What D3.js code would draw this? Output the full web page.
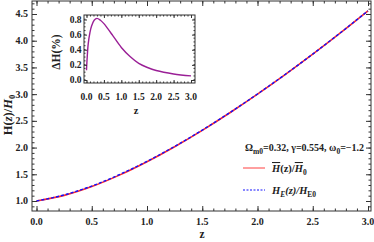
<!DOCTYPE html>
<html>
<head>
<meta charset="utf-8">
<script src="https://cdn.jsdelivr.net/npm/d3@7"></script>
<style>
  body { margin: 0; background: #fff; }
  svg text { font-family: "Liberation Serif", "Times New Roman", serif; font-weight: bold; fill: #222; }
</style>
</head>
<body>
<svg id="chart" width="374" height="242"></svg>
<script>
// main curves, H(z)/H0
var zMain = [0, 0.25, 0.5, 0.75, 1.0, 1.25, 1.5, 1.75, 2.0, 2.25, 2.5, 2.75, 3.0];
var hBar  = [1.000, 1.105, 1.270, 1.484, 1.735, 2.016, 2.322, 2.651, 2.999, 3.365, 3.747, 4.145, 4.558];
var hE    = [1.000, 1.113, 1.280, 1.494, 1.742, 2.022, 2.327, 2.655, 3.003, 3.368, 3.750, 4.148, 4.560];

// inset, relative difference in percent
var zInset = [0, 0.02, 0.05, 0.1, 0.15, 0.22, 0.3, 0.4, 0.5, 0.6, 0.75, 1.0, 1.25, 1.5, 1.75, 2.0, 2.5, 3.0];
var dH     = [0.13, 0.3, 0.48, 0.63, 0.72, 0.79, 0.815, 0.79, 0.745, 0.685, 0.59, 0.43, 0.31, 0.22, 0.165, 0.125, 0.08, 0.055];

var xTicks = [0, 0.5, 1, 1.5, 2, 2.5, 3];
var yTicks = [1, 1.5, 2, 2.5, 3, 3.5, 4, 4.5];
var yInsetTicks = [0, 0.2, 0.4, 0.6, 0.8];

var svg = d3.select("#chart");

// draws a framed box with inward ticks on all four sides
function frame(g, x, y, box, major, minor, xMajor, xMinor, yMajor, yMinor) {
    g.append("rect")
        .attr("x", box.l).attr("y", box.t)
        .attr("width", box.r - box.l).attr("height", box.b - box.t)
        .attr("fill", "none").attr("stroke", "#333").attr("stroke-width", 1);

    var sides = [
        [d3.axisBottom, x, box.b, "x"],
        [d3.axisTop, x, box.t, "x"],
        [d3.axisLeft, y, box.l, "y"],
        [d3.axisRight, y, box.r, "y"]
    ];
    sides.forEach(function(s) {
        [[s[3] == "x" ? xMajor : yMajor, major], [s[3] == "x" ? xMinor : yMinor, minor]].forEach(function(t) {
            var ax = s[0](s[1]).tickValues(t[0]).tickSize(-t[1]).tickFormat("");
            var a = g.append("g")
                .attr("transform", s[3] == "x" ? "translate(0," + s[2] + ")" : "translate(" + s[2] + ",0)")
                .call(ax);
            a.select(".domain").remove();
            a.selectAll("line").attr("stroke", "#333");
        });
    });
}

// ---- main plot
var x = d3.scaleLinear().domain([0, 3]).range([36.5, 368]);
var y = d3.scaleLinear().domain([1, 4.5]).range([201, 14]);
var box = {l: 32, r: 371, t: 1, b: 211};

var minorX = d3.range(0, 3.01, 0.1).map(function(d) { return +d.toFixed(2); });
var minorY = d3.range(0.9, 4.71, 0.1).map(function(d) { return +d.toFixed(2); });

var main = svg.append("g");

var line = d3.line()
    .x(function(d) { return x(d[0]); })
    .y(function(d) { return y(d[1]); })
    .curve(d3.curveMonotoneX);

main.append("path")
    .attr("d", line(d3.zip(zMain, hBar)))
    .attr("fill", "none").attr("stroke", "#ff2a2a").attr("stroke-width", 1.6);

main.append("path")
    .attr("d", line(d3.zip(zMain, hE)))
    .attr("fill", "none").attr("stroke", "#1010ff").attr("stroke-width", 1.4)
    .attr("stroke-dasharray", "3,2");

frame(main, x, y, box, 5, 2.5, xTicks, minorX, yTicks, minorY);

main.selectAll(".xl").data(xTicks).enter()
    .append("text")
    .attr("x", function(d) { return x(d); })
    .attr("y", 224.5)
    .attr("text-anchor", "middle")
    .attr("font-size", 10)
    .text(function(d) { return d.toFixed(1); });

main.selectAll(".yl").data(yTicks).enter()
    .append("text")
    .attr("x", 28)
    .attr("y", function(d) { return y(d) + 3.4; })
    .attr("text-anchor", "end")
    .attr("font-size", 10)
    .text(function(d) { return d.toFixed(1); });

main.append("text")
    .attr("x", 202).attr("y", 238)
    .attr("text-anchor", "middle").attr("font-size", 11.5)
    .text("z");

var yl = main.append("text")
    .attr("transform", "translate(12,115) rotate(-90)")
    .attr("text-anchor", "middle").attr("font-size", 12.5);
yl.append("tspan").text("H(");
yl.append("tspan").attr("font-style", "italic").text("z");
yl.append("tspan").text(")/");
yl.append("tspan").attr("font-style", "italic").text("H");
yl.append("tspan").attr("font-size", 8.5).attr("dy", 3).text("0");

// legend
var lg = main.append("text")
    .attr("x", 245).attr("y", 151).attr("font-size", 10);
lg.append("tspan").text("\u03A9");
lg.append("tspan").attr("font-size", 7.5).attr("dy", 2.5).text("m0");
lg.append("tspan").attr("dy", -2.5).text("=0.32, \u03B3=0.554, \u03C9");
lg.append("tspan").attr("font-size", 7.5).attr("dy", 2.5).text("0");
lg.append("tspan").attr("dy", -2.5).text("=\u22121.2");

main.append("line")
    .attr("x1", 243).attr("x2", 265).attr("y1", 168).attr("y2", 168)
    .attr("stroke", "#ff4040").attr("stroke-width", 1);
main.append("line")
    .attr("x1", 243).attr("x2", 265).attr("y1", 190).attr("y2", 190)
    .attr("stroke", "#1010ff").attr("stroke-width", 1).attr("stroke-dasharray", "2,1.5");

var t1 = main.append("text").attr("x", 272).attr("y", 172).attr("font-size", 10.5);
t1.append("tspan").attr("font-style", "italic").attr("text-decoration", "overline").text("H");
t1.append("tspan").text("(z)/");
t1.append("tspan").attr("font-style", "italic").attr("text-decoration", "overline").text("H");
t1.append("tspan").attr("font-size", 7.5).attr("dy", 2.5).text("0");

var t2 = main.append("text").attr("x", 272).attr("y", 194).attr("font-size", 10.5);
t2.append("tspan").attr("font-style", "italic").text("H");
t2.append("tspan").attr("font-style", "italic").attr("font-size", 7.5).attr("dy", 2.5).text("E");
t2.append("tspan").attr("dy", -2.5).attr("font-style", "italic").text("(z)/H");
t2.append("tspan").attr("font-size", 7.5).attr("dy", 2.5).text("E0");

// ---- inset
var xi = d3.scaleLinear().domain([0, 3]).range([86.5, 191]);
var yi = d3.scaleLinear().domain([0, 0.8]).range([80, 19.5]);
var ibox = {l: 84, r: 195, t: 15, b: 83};

var inset = svg.append("g");
inset.append("rect")
    .attr("x", ibox.l).attr("y", ibox.t)
    .attr("width", ibox.r - ibox.l).attr("height", ibox.b - ibox.t)
    .attr("fill", "#fff");

inset.append("path")
    .attr("d", d3.line()
        .x(function(d) { return xi(d[0]); })
        .y(function(d) { return yi(d[1]); })
        .curve(d3.curveCatmullRom.alpha(0.5))(d3.zip(zInset, dH)))
    .attr("fill", "none").attr("stroke", "#9a1f96").attr("stroke-width", 1.4);

var minorXi = d3.range(0, 3.01, 0.1).map(function(d) { return +d.toFixed(2); });
var minorYi = d3.range(-0.04, 0.86, 0.05).map(function(d) { return +d.toFixed(2); }).filter(function(d) { return d >= -0.03; });
frame(inset, xi, yi, ibox, 3, 1.5, xTicks, minorXi, yInsetTicks, minorYi);

inset.selectAll(".xil").data(xTicks).enter()
    .append("text")
    .attr("x", function(d) { return xi(d); })
    .attr("y", 99.5)
    .attr("text-anchor", "middle")
    .attr("font-size", 9.5)
    .text(function(d) { return d.toFixed(1); });

inset.selectAll(".yil").data(yInsetTicks).enter()
    .append("text")
    .attr("x", 81.5)
    .attr("y", function(d) { return yi(d) + 3.3; })
    .attr("text-anchor", "end")
    .attr("font-size", 9.5)
    .text(function(d) { return d.toFixed(1); });

inset.append("text")
    .attr("x", 136).attr("y", 114)
    .attr("text-anchor", "middle").attr("font-size", 10.5)
    .text("z");

inset.append("text")
    .attr("transform", "translate(60,52) rotate(-90)")
    .attr("text-anchor", "middle").attr("font-size", 11.5)
    .text("\u0394H(%)");
</script>
</body>
</html>
